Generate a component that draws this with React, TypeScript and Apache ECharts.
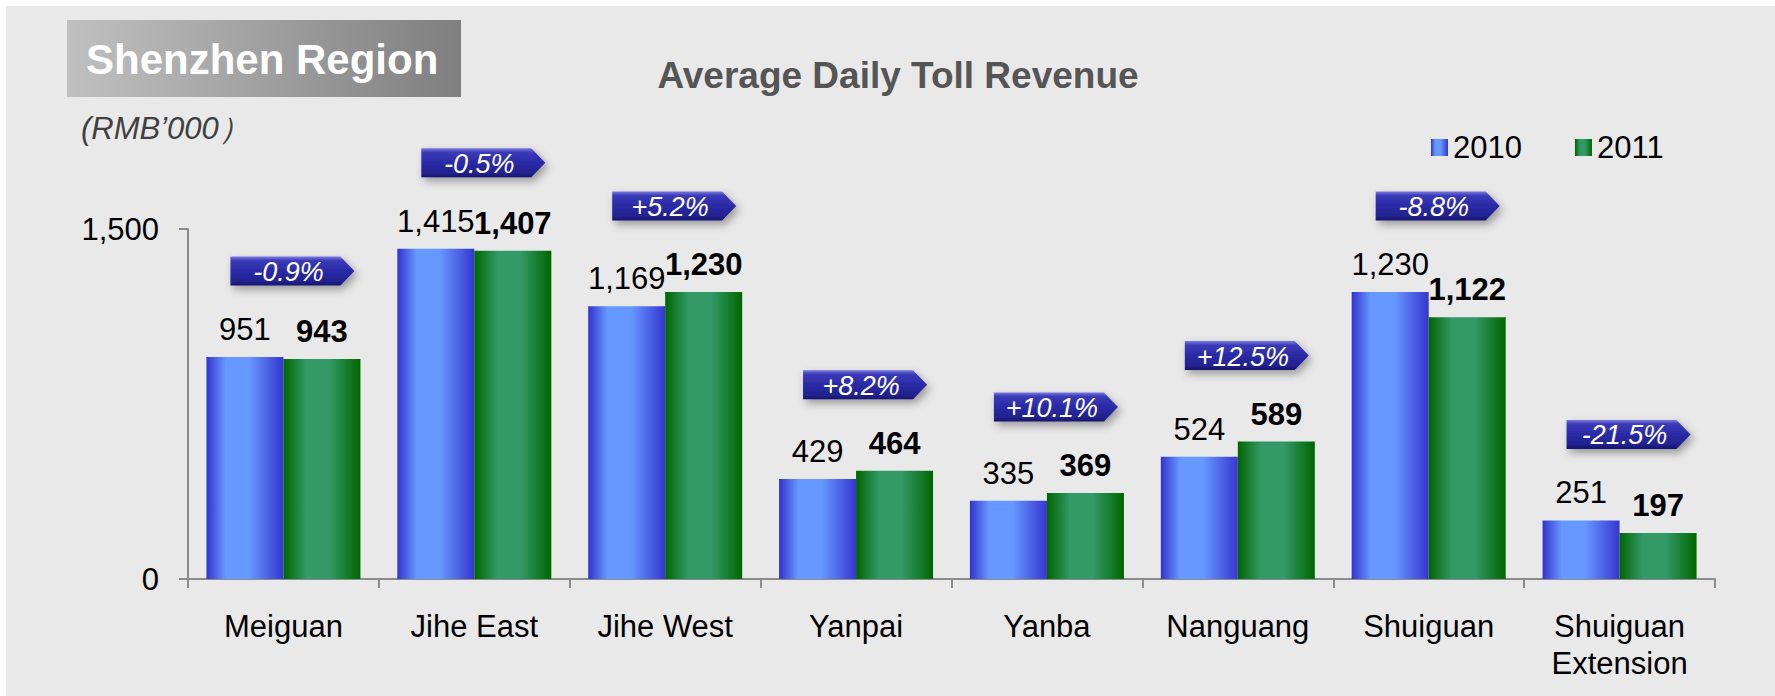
import React, { useEffect, useRef } from "react";
import * as echarts from "echarts";

const categories = [
  "Meiguan",
  "Jihe East",
  "Jihe West",
  "Yanpai",
  "Yanba",
  "Nanguang",
  "Shuiguan",
  "Shuiguan\nExtension",
];
const values2010 = [951, 1415, 1169, 429, 335, 524, 1230, 251];
const values2011 = [943, 1407, 1230, 464, 369, 589, 1122, 197];
const changes = ["-0.9%", "-0.5%", "+5.2%", "+8.2%", "+10.1%", "+12.5%", "-8.8%", "-21.5%"];
const seriesNames = ["2010", "2011"];
const yMin = 0;
const yMax = 1500;

const FONT = '"Liberation Sans", Arial, Helvetica, sans-serif';

const fmt = (v: number) => Number(v).toLocaleString("en-US");

export default function App() {
  const ref = useRef<HTMLDivElement>(null);

  useEffect(() => {
    if (!ref.current) return;
    const chart = echarts.init(ref.current, undefined, { renderer: "svg" });

    const blue = new echarts.graphic.LinearGradient(0, 0, 1, 0, [
      { offset: 0, color: "#3333cc" },
      { offset: 0.25, color: "#6699ff" },
      { offset: 0.55, color: "#6699ff" },
      { offset: 1, color: "#3636d0" },
    ]);
    const green = new echarts.graphic.LinearGradient(0, 0, 1, 0, [
      { offset: 0, color: "#006600" },
      { offset: 0.3, color: "#339966" },
      { offset: 0.6, color: "#339966" },
      { offset: 1, color: "#006600" },
    ]);

    const badgeData = categories.map((c, i) => [i, Math.max(values2010[i], values2011[i])]);

    const option: any = {
      animation: false,
      backgroundColor: "#e9e9e9",
      textStyle: { fontFamily: FONT },
      grid: { left: 188, right: 60, top: 229, bottom: 117, containLabel: false },
      legend: {
        data: seriesNames,
        left: 1426,
        top: 127,
        itemWidth: 17,
        itemHeight: 17,
        itemGap: 53,
        icon: "rect",
        textStyle: { fontSize: 31, color: "#000", fontFamily: FONT },
      },
      graphic: [
        { type: "rect", shape: { x: 0, y: 0, width: 1775, height: 6 }, style: { fill: "#ffffff" } },
        { type: "rect", shape: { x: 0, y: 0, width: 6, height: 696 }, style: { fill: "#ffffff" } },
        {
          type: "rect",
          shape: { x: 67, y: 20, width: 394, height: 77 },
          style: {
            fill: new echarts.graphic.LinearGradient(0, 0, 1, 0, [
              { offset: 0, color: "#c0c0c0" },
              { offset: 1, color: "#7f7f7f" },
            ]),
          },
        },
        {
          type: "text",
          x: 86,
          y: 59,
          style: {
            text: "Shenzhen Region",
            fill: "#ffffff",
            font: `bold 42px ${FONT}`,
            textAlign: "left",
            textVerticalAlign: "middle",
          },
        },
        {
          type: "text",
          x: 81,
          y: 128,
          style: {
            text: "(RMB\u2019000\uFF09",
            fill: "#404040",
            font: `italic 31px ${FONT}`,
            textAlign: "left",
            textVerticalAlign: "middle",
          },
        },
        {
          type: "text",
          x: 898,
          y: 75,
          style: {
            text: "Average Daily Toll Revenue",
            fill: "#555555",
            font: `bold 37px ${FONT}`,
            textAlign: "center",
            textVerticalAlign: "middle",
          },
        },
      ],
      xAxis: {
        type: "category",
        data: categories,
        axisLine: { show: true, lineStyle: { color: "#8c8c8c", width: 2 } },
        axisTick: { show: true, length: 9, lineStyle: { color: "#8c8c8c", width: 2 } },
        axisLabel: {
          fontSize: 31,
          color: "#000",
          margin: 29,
          lineHeight: 37,
          fontFamily: FONT,
          interval: 0,
        },
        splitLine: { show: false },
      },
      yAxis: {
        type: "value",
        min: yMin,
        max: yMax,
        interval: yMax,
        axisLine: { show: true, lineStyle: { color: "#8c8c8c", width: 2 } },
        axisTick: { show: true, length: 9, lineStyle: { color: "#8c8c8c", width: 2 } },
        axisLabel: {
          fontSize: 31,
          color: "#000",
          margin: 29,
          fontFamily: FONT,
          formatter: (v: number) => fmt(v),
        },
        splitLine: { show: false },
      },
      series: [
        {
          name: seriesNames[0],
          type: "bar",
          data: values2010,
          barWidth: 77,
          barGap: "0%",
          itemStyle: { color: blue },
          label: {
            show: true,
            position: "top",
            distance: 12,
            fontSize: 31,
            color: "#000",
            fontFamily: FONT,
            formatter: (p: any) => fmt(p.value),
          },
        },
        {
          name: seriesNames[1],
          type: "bar",
          data: values2011,
          barWidth: 77,
          barGap: "0%",
          itemStyle: { color: green },
          label: {
            show: true,
            position: "top",
            distance: 12,
            fontSize: 31,
            fontWeight: "bold",
            color: "#000",
            fontFamily: FONT,
            formatter: (p: any) => fmt(p.value),
          },
        },
        {
          name: "change",
          type: "custom",
          clip: false,
          z: 10,
          data: badgeData,
          encode: { x: 0, y: 1 },
          renderItem: (params: any, api: any) => {
            const pt = api.coord([api.value(0), api.value(1)]);
            const cx = pt[0] + 2;
            const cy = pt[1] - 86;
            const w = 110;
            const h = 29;
            const l = cx - w / 2;
            const r = cx + w / 2;
            const t = cy - h / 2;
            const b = cy + h / 2;
            return {
              type: "group",
              children: [
                {
                  type: "polygon",
                  shape: { points: [[l, t], [r, t], [r + 14, cy], [r, b], [l, b]] },
                  style: {
                    fill: new echarts.graphic.LinearGradient(0, 0, 0, 1, [
                      { offset: 0, color: "#7a7ae0" },
                      { offset: 0.14, color: "#3b3bb8" },
                      { offset: 0.5, color: "#2a2aa6" },
                      { offset: 0.85, color: "#22228f" },
                      { offset: 1, color: "#15156b" },
                    ]),
                    shadowBlur: 8,
                    shadowColor: "rgba(0,0,0,0.35)",
                    shadowOffsetX: 3,
                    shadowOffsetY: 4,
                  },
                },
                {
                  type: "text",
                  x: cx + 3,
                  y: cy + 1,
                  style: {
                    text: changes[params.dataIndex],
                    fill: "#ffffff",
                    font: `italic 27px ${FONT}`,
                    textAlign: "center",
                    textVerticalAlign: "middle",
                  },
                },
              ],
            };
          },
        },
      ],
    };

    chart.setOption(option);
    return () => chart.dispose();
  }, []);

  return (
    <div
      ref={ref}
      style={{ position: "absolute", left: 0, top: 0, width: 1775, height: 696 }}
    />
  );
}
